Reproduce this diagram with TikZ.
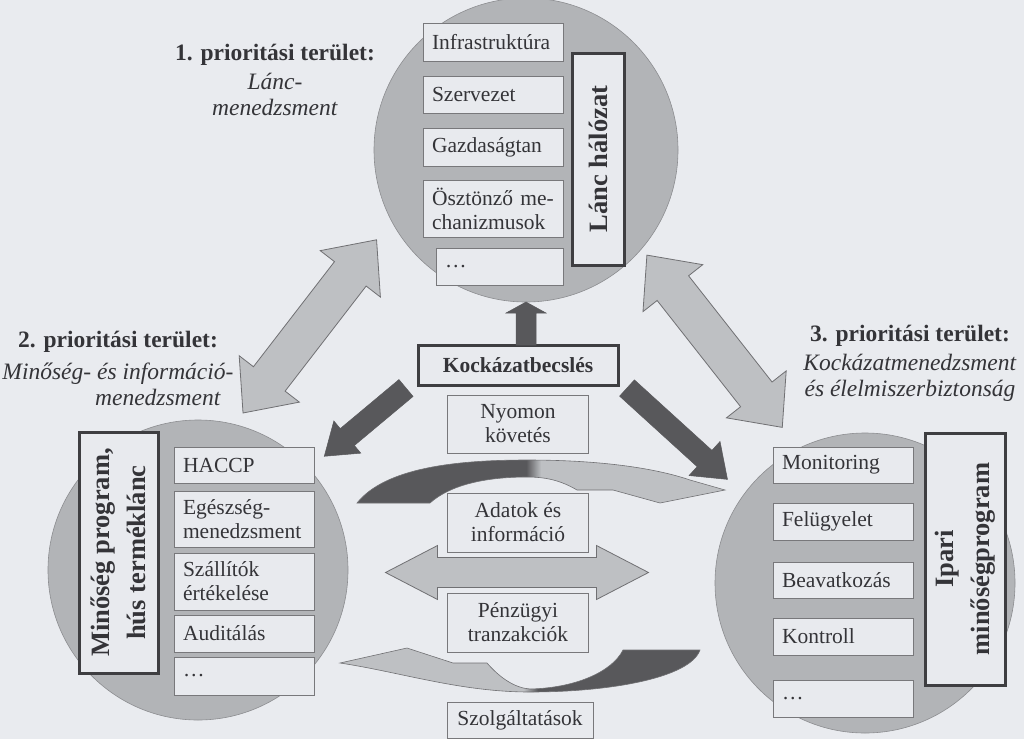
\documentclass[tikz,border=0pt]{standalone}
\usepackage{fontspec}
\setmainfont{Liberation Serif}
\usetikzlibrary{calc,positioning}

\definecolor{bgcol}{RGB}{233,235,239}
\definecolor{circfill}{RGB}{178,180,183}
\definecolor{circline}{RGB}{140,141,144}
\definecolor{itemfill}{RGB}{232,234,238}
\definecolor{itemline}{RGB}{120,120,123}
\definecolor{thickline}{RGB}{62,62,65}
\definecolor{arrlight}{RGB}{190,192,195}
\definecolor{arrline}{RGB}{112,112,115}
\definecolor{arrdark}{RGB}{88,88,91}
\definecolor{textcol}{RGB}{52,52,56}

\newcommand{\boxfont}{\fontsize{21.5}{24}\selectfont}
\newcommand{\headfont}{\fontsize{23.5}{26}\selectfont}
\newcommand{\sidefont}{\fontsize{26.5}{36}\selectfont\bfseries}

% fat double arrow: style, end a, end b, half shaft, half head, head length
\newcommand{\dblarrow}[6]{%
  \filldraw[#1] (#2)
    -- ($(#2)!#6!(#3)!#5!90:(#3)$) -- ($(#2)!#6!(#3)!#4!90:(#3)$)
    -- ($(#3)!#6!(#2)!#4!-90:(#2)$) -- ($(#3)!#6!(#2)!#5!-90:(#2)$)
    -- (#3)
    -- ($(#3)!#6!(#2)!#5!90:(#2)$) -- ($(#3)!#6!(#2)!#4!90:(#2)$)
    -- ($(#2)!#6!(#3)!#4!-90:(#3)$) -- ($(#2)!#6!(#3)!#5!-90:(#3)$)
    -- cycle;}
% fat single arrow: style, tail, tip, half shaft, half head, head length
\newcommand{\onearrow}[6]{%
  \filldraw[#1] ($(#2)!#4!90:(#3)$)
    -- ($(#3)!#6!(#2)!#4!-90:(#2)$) -- ($(#3)!#6!(#2)!#5!-90:(#2)$)
    -- (#3)
    -- ($(#3)!#6!(#2)!#5!90:(#2)$) -- ($(#3)!#6!(#2)!#4!90:(#2)$)
    -- ($(#2)!#4!-90:(#3)$) -- cycle;}

\pgfdeclarehorizontalshading{darklight}{100bp}{color(0bp)=(arrdark); color(48bp)=(arrdark); color(50bp)=(arrlight); color(100bp)=(arrlight)}
\pgfdeclarehorizontalshading{lightdark}{100bp}{color(0bp)=(arrlight); color(50.5bp)=(arrlight); color(52.5bp)=(arrdark); color(100bp)=(arrdark)}

\tikzset{
  circ/.style={circle, fill=circfill, draw=circline, line width=0.6pt, minimum size=#1, inner sep=0pt, outer sep=0pt},
  item/.style={draw=itemline, fill=itemfill, line width=0.8pt, font=\boxfont, align=left, text width=122pt,
    inner xsep=9pt, inner ysep=0pt, outer sep=0pt, minimum height=37pt},
  midbox/.style={draw=itemline, fill=itemfill, line width=0.8pt, font=\boxfont, align=center, inner sep=0pt, outer sep=0pt},
  sidebox/.style={draw=thickline, line width=3pt, fill=itemfill, font=\sidefont, align=center, rotate=90,
    inner sep=0pt, outer sep=0pt},
  bigarrow/.style={fill=arrlight, draw=arrline, line width=0.8pt},
  darkarrow/.style={fill=arrdark, draw=arrdark, line width=0.5pt},
  title/.style={font=\headfont, align=center, inner sep=0pt}
}

\begin{document}
\begin{tikzpicture}[x=1pt, y=-1pt, every node/.append style={text=textcol}]
  \useasboundingbox (0,0) rectangle (1024,739);
  \fill[bgcol] (0,0) rectangle (1024,739);

  % the three circles
  \node[circ=304pt] (lanc) at (526,150) {};
  \node[circ=300pt] (minoseg) at (198,570) {};
  \node[circ=300pt] (ipar) at (865,583) {};

  % titles
  \node[title] (t1) at (275,80)
    {\textbf{1. prioritási terület:}\\[3pt]\textit{Lánc-}\\\textit{menedzsment}};
  \node[title] (t2) at (118,368)
    {\textbf{2. prioritási terület:}\\[6pt]\textit{Minőség- és információ-}\\\hspace*{80pt}\textit{menedzsment}};
  \node[title] (t3) at (910,363)
    {\textbf{3. prioritási terület:}\\[3pt]\textit{Kockázatmenedzsment}\\\textit{és élelmiszerbiztonság}};

  % centre column
  \node[midbox, line width=3pt, draw=thickline, minimum width=200pt, minimum height=40pt, font=\boxfont\bfseries]
    (kock) at (518,365) {Kockázatbecslés};
  \node[midbox, minimum width=141pt, minimum height=58pt, below=10pt of kock] (nyomon) {Nyomon\\követés};
  \node[midbox, minimum width=141pt, minimum height=59pt, below=40pt of nyomon] (adatok) {Adatok és\\információ};
  \node[midbox, minimum width=141pt, minimum height=59pt, below=41pt of adatok] (penz) {Pénzügyi\\tranzakciók};
  \node[midbox, minimum width=146pt, minimum height=36pt, below=50pt of penz, xshift=2pt] (szolg) {Szolgáltatások};

  % arrows between the circles
  \coordinate (a1) at ($(lanc.center)!1.147!(lanc.211)$);
  \coordinate (a2) at ($(minoseg.center)!1.089!(minoseg.74)$);
  \coordinate (b1) at ($(lanc.center)!1.054!(lanc.319)$);
  \coordinate (b2) at ($(ipar.center)!1.175!(ipar.118)$);
  \dblarrow{bigarrow}{a1}{a2}{20pt}{38pt}{43pt}
  \dblarrow{bigarrow}{b1}{b2}{20pt}{38pt}{42pt}

  \coordinate (mid) at ($(adatok.south)!0.5!(penz.north)$);
  \coordinate (h1) at ($(mid)+(-132.5,0)$);
  \coordinate (h2) at ($(mid)+(130.5,0)$);
  \dblarrow{bigarrow}{h1}{h2}{15pt}{27pt}{52pt}

  % risk assessment arrows
  \coordinate (u1) at (kock.north -| lanc.south);
  \coordinate (d1) at ($(kock.south west)+(-12,3)$);
  \coordinate (d2) at ($(minoseg.center)!1.133!(minoseg.42)$);
  \coordinate (e1) at ($(kock.south east)+(9,3)$);
  \coordinate (e2) at ($(ipar.center)!1.148!(ipar.143)$);
  \onearrow{darkarrow}{u1}{lanc.south}{10pt}{20pt}{11pt}
  \onearrow{darkarrow}{d1}{d2}{11pt}{21pt}{30pt}
  \onearrow{darkarrow}{e1}{e2}{11pt}{23pt}{31pt}

  % curved flows
  \shadedraw[shading=darklight, draw=arrline, line width=0.6pt]
    (357,503) .. controls (385,468) and (455,460) .. (527,460)
    .. controls (600,460) and (655,468) .. (690,480) -- (725,490) -- (660,503) -- (613,490) -- (577,490)
    .. controls (560,480) and (545,477) .. (527,477)
    .. controls (485,477) and (450,485) .. (430,503) -- cycle;
  \shadedraw[shading=lightdark, draw=arrline, line width=0.6pt]
    (700,650) .. controls (690,678) and (610,692) .. (530,692)
    .. controls (460,692) and (400,672) .. (340,663) -- (407,648) -- (453,663) -- (487,663)
    .. controls (500,678) and (515,688) .. (530,689)
    .. controls (575,688) and (612,672) .. (623,650) -- cycle;

  % chain circle
  \node[item, anchor=north west, minimum height=38pt] (infra) at (423,23) {Infrastruktúra};
  \node[item, below=15pt of infra] (szerv) {Szervezet};
  \node[item, below=15pt of szerv, minimum height=38pt] (gazd) {Gazdaságtan};
  \node[item, below=14pt of gazd, minimum height=57pt] (oszt) {Ösztönző me-\\chanizmusok};
  \node[item, text width=109pt, anchor=north east] (etc1) at ($(oszt.south east)+(0,11)$) {\dots};
  \node[sidebox, minimum width=212pt, minimum height=52pt] (lancbox) at (598,159) {Lánc hálózat};

  % quality circle
  \node[item, anchor=north west, minimum height=36pt] (haccp) at (174,447) {HACCP};
  \node[item, below=8pt of haccp, minimum height=56pt] (egesz) {Egészség-\\menedzsment};
  \node[item, below=6pt of egesz, minimum height=57pt] (szall) {Szállítók\\értékelése};
  \node[item, below=5pt of szall] (audit) {Auditálás};
  \node[item, below=5pt of audit, minimum height=38pt] (etc2) {\dots};
  \node[sidebox, minimum width=241pt, minimum height=79pt] (minbox) at (118.5,552.5)
    {Minőség program,\\hús terméklánc};

  % industry circle
  \node[item, anchor=north west, minimum height=36pt] (monit) at (773,447) {Monitoring};
  \node[item, below=20pt of monit] (felu) {Felügyelet};
  \node[item, below=22pt of felu, minimum height=36pt] (beav) {Beavatkozás};
  \node[item, below=20pt of beav] (kontr) {Kontroll};
  \node[item, below=25pt of kontr] (etc3) {\dots};
  \node[sidebox, minimum width=252pt, minimum height=80pt] (iparbox) at (965,559)
    {Ipari\\minőségprogram};
\end{tikzpicture}
\end{document}
